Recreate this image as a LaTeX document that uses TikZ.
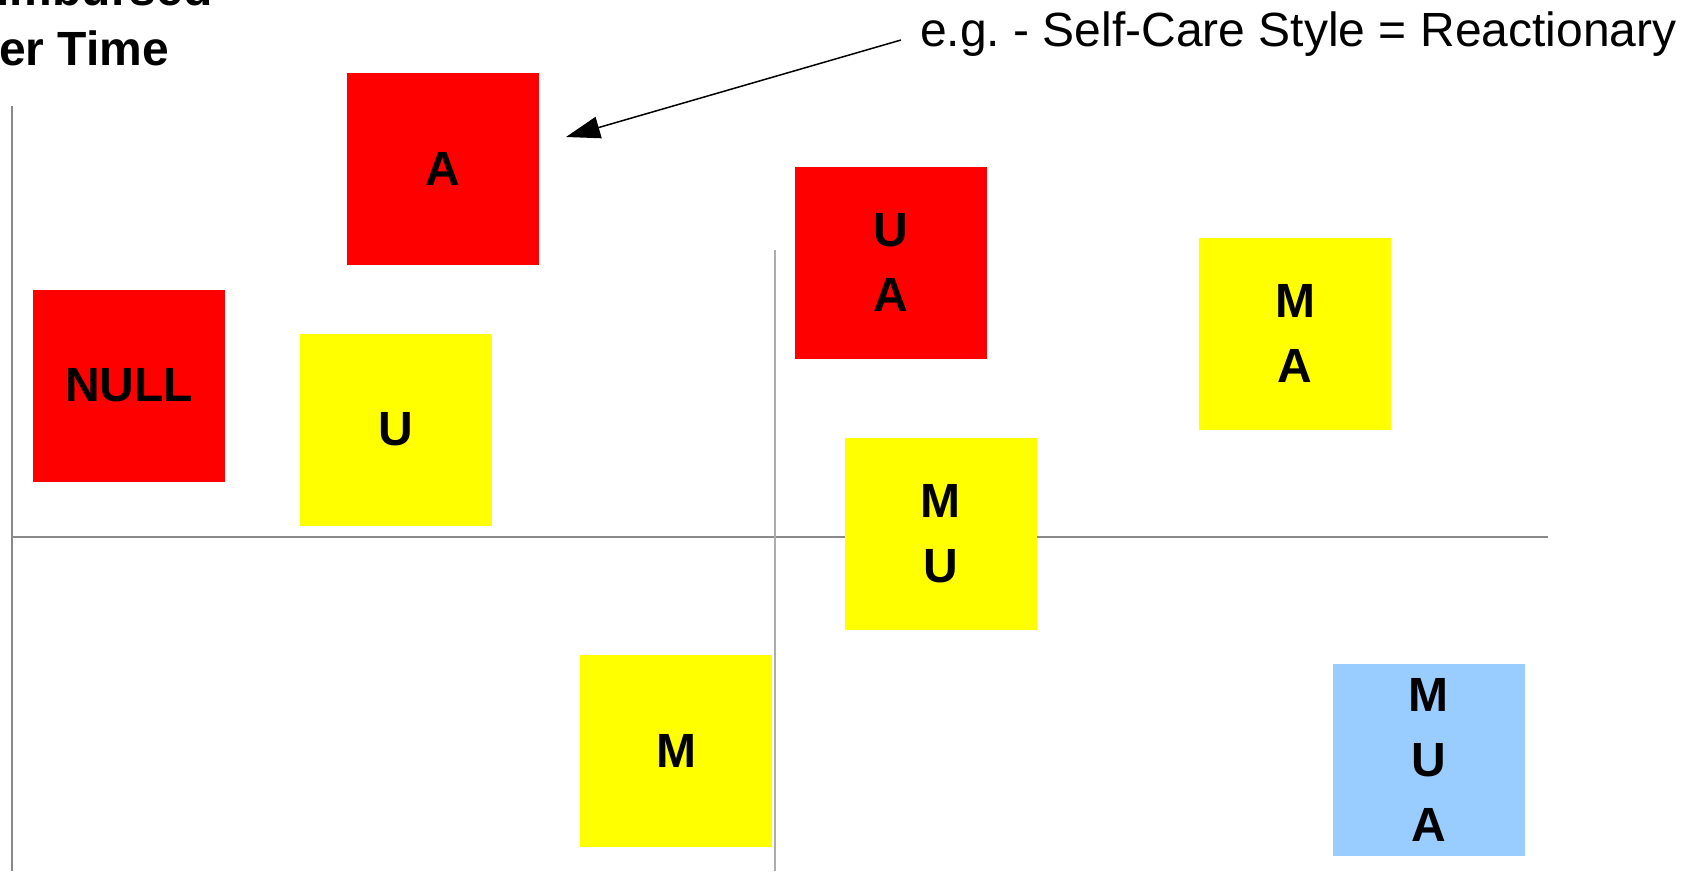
\documentclass[tikz,border=0pt]{standalone}
\usepackage{fontspec}
\setmainfont{Liberation Sans}
\usetikzlibrary{arrows.meta}
\frenchspacing

\definecolor{cardred}{HTML}{FF0000}
\definecolor{cardyellow}{HTML}{FFFF00}
\definecolor{cardblue}{HTML}{99CCFF}
\definecolor{axisgray}{HTML}{8A8A8A}

\tikzset{
  card/.style={minimum width=192pt,minimum height=192pt,inner sep=0pt,align=center,
    font=\fontsize{48}{65}\selectfont\bfseries},
  redcard/.style={card,fill=cardred},
  yellowcard/.style={card,fill=cardyellow},
  bluecard/.style={card,fill=cardblue},
  axisline/.style={draw=axisgray,line width=1.5pt},
}

\begin{document}
\begin{tikzpicture}[x=1pt,y=-1pt]
  \clip (0,0) rectangle (1691,871);

  % axes
  \draw [axisline] (12,106) -- (12,871);
  \draw [axisline] (12,537) -- (1548,537);
  \draw [axisline,draw=axisgray!70] (775,250) -- (775,871);

  % heading, cut at the top-left corner
  \node [anchor=base west,align=left,inner sep=0pt,
         font=\fontsize{48}{60}\selectfont\bfseries] (title) at (-65,65) {Reimbursed\\Over Time};

  % cards
  \node [redcard]    (a)    at (443,169)    {A};
  \node [redcard]    (null) at (129,385.5)  {NULL};
  \node [yellowcard] (u)    at (396,429.5)  {U};
  \node [redcard]    (ua)   at (891,262.5)  {U\\A};
  \node [yellowcard] (ma)   at (1295,333.5) {M\\A};
  \node [yellowcard] (mu)   at (940.5,533.5) {M\\U};
  \node [yellowcard] (m)    at (676,751)    {M};
  \node [bluecard]   (mua)  at (1428.5,759.5) {M\\U\\A};

  % example note
  \node [anchor=base west,inner sep=0pt,font=\fontsize{48}{58}\selectfont] (note) at (920,46)
        {e.g. - Self-Care Style = Reactionary};
  \coordinate (notetail) at ([shift={(-19,-6)}]note.base west);
  \coordinate (atip) at (566,137);
  \draw [line width=1.5pt,-{Triangle[length=34pt,width=22pt]}] (notetail) -- (atip);
\end{tikzpicture}
\end{document}
